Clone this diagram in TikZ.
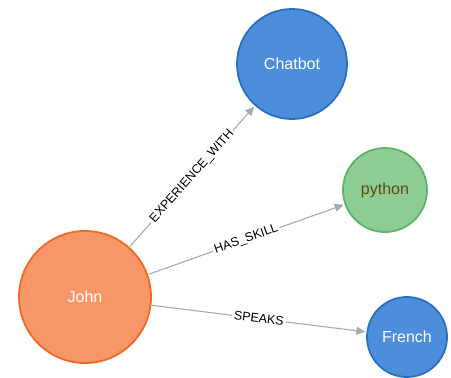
\documentclass[tikz,border=0pt]{standalone}
\usepackage{fontspec}
\setmainfont{Liberation Sans}
\usetikzlibrary{arrows.meta}
\definecolor{johnfill}{HTML}{F79767}
\definecolor{johnline}{HTML}{F36924}
\definecolor{bluefill}{HTML}{4C8EDA}
\definecolor{blueline}{HTML}{2870C2}
\definecolor{greenfill}{HTML}{8DCC93}
\definecolor{greenline}{HTML}{5DB665}
\definecolor{pytext}{HTML}{604A0E}
\definecolor{edgecol}{HTML}{A5ABB6}
\tikzset{
  gnode/.style={circle, inner sep=0pt, line width=1.8pt, font=\fontsize{16}{18}\selectfont},
  rel/.style={draw=edgecol, line width=1.1pt, -{Triangle[length=9pt,width=8pt]}, shorten >=1pt, shorten <=1pt},
  rlabel/.style={midway, sloped, fill=white, inner sep=2pt, font=\fontsize{12.5}{14}\selectfont, text=black}
}
\begin{document}
\begin{tikzpicture}[x=1pt,y=-1pt]
\useasboundingbox (0,0) rectangle (451,378);
\node[gnode, fill=johnfill, draw=johnline, minimum size=132pt, text=white] (john) at (85,297) {John};
\node[gnode, fill=bluefill, draw=blueline, minimum size=110pt, text=white] (chatbot) at (292,64) {Chatbot};
\node[gnode, fill=greenfill, draw=greenline, minimum size=84pt, text=pytext] (python) at (385,190) {python};
\node[gnode, fill=bluefill, draw=blueline, minimum size=80pt, text=white] (french) at (407,337) {French};
\draw[rel] (john) -- node[rlabel] {EXPERIENCE\_WITH} (chatbot);
\draw[rel] (john) -- node[rlabel] {HAS\_SKILL} (python);
\draw[rel] (john) -- node[rlabel] {SPEAKS} (french);
\end{tikzpicture}
\end{document}
